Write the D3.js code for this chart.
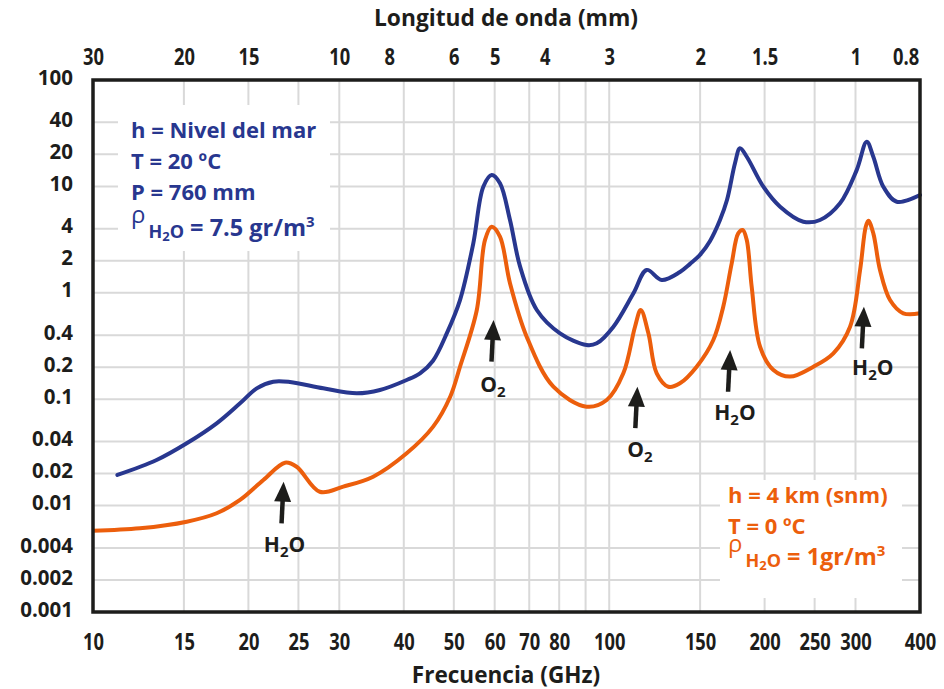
<!DOCTYPE html>
<html>
<head>
<meta charset="utf-8">
<script src="https://cdn.jsdelivr.net/npm/d3@7"></script>
<style>
  body { margin: 0; background: #fff; }
  text { font-family: "Open Sans", sans-serif; font-weight: 700; }
</style>
</head>
<body>
<div id="chart"></div>
<script>
// frequency ticks (GHz), bottom axis
const freqTicks = [10, 15, 20, 25, 30, 40, 50, 60, 70, 80, 100, 150, 200, 250, 300, 400];
const freqGrid = [15, 20, 25, 30, 40, 50, 60, 70, 80, 90, 100, 150, 200, 250, 300];
// wavelength ticks (mm), top axis
const waveTicks = [30, 20, 15, 10, 8, 6, 5, 4, 3, 2, 1.5, 1, 0.8];
// attenuation ticks (dB/km)
const attTicks = [100, 40, 20, 10, 4, 2, 1, 0.4, 0.2, 0.1, 0.04, 0.02, 0.01, 0.004, 0.002, 0.001];
const attGrid = [40, 20, 10, 4, 2, 1, 0.4, 0.2, 0.1, 0.04, 0.02, 0.01, 0.004, 0.002];

// sea level curve
const seaFreq = [11.15, 13.28, 15.19, 17.36, 19.27, 20.76, 22.35, 24.07, 27.93, 32.42, 35.97, 40.52, 43.0, 45.57, 48.5,
  51.4, 54.54, 57.03, 59.2, 61.43, 64.24, 67.2, 72.4, 80.3, 90.4, 94.6, 101.9, 111.4, 118.2, 126.4, 137.1,
  143.4, 149.9, 156.8, 163.9, 169.1, 175.3, 179.2, 184.7, 198.9, 214.3, 237.7, 256.1, 280.0, 301.7, 315.4, 324.8, 339.6,
  360.6, 400];
const seaAtt = [0.0194, 0.0268, 0.0385, 0.0593, 0.0915, 0.1265, 0.146, 0.145, 0.1265, 0.1136, 0.122, 0.1514, 0.175, 0.23, 0.42,
  0.855, 2.92, 9.93, 12.8, 10.7, 4.83, 1.76, 0.689, 0.416, 0.323, 0.335, 0.48, 0.989, 1.64, 1.32, 1.57,
  1.87, 2.27, 3.07, 4.83, 7.45, 16.6, 22.8, 19.0, 9.93, 6.44, 4.66, 4.83, 6.93, 14.3, 26.3, 19.0, 9.93,
  7.18, 8.3];

// 4 km curve
const highFreq = [10, 12.33, 15.19, 17.36, 19.27, 21.38, 23.55, 24.8, 27.5, 30.54, 34.9, 40.52, 45.6, 49.2, 51.4,
  55.4, 57.45, 59.2, 61.43, 64.24, 69.2, 77.95, 90.4, 98.9, 106.5, 112.2, 115.1, 119.1, 123.6, 130.2,
  137.1, 147.7, 159.1, 166.3, 172.7, 177.8, 181.4, 184.7, 188.8, 196.0, 208, 224, 248.6, 271.8, 292.8,
  306.2, 314.0, 317.7, 324.8, 334.6, 349.9, 371.2, 400];
const highAtt = [0.00581, 0.00612, 0.00706, 0.00847, 0.0113, 0.0174, 0.0253, 0.0232, 0.0135, 0.0151, 0.0187, 0.031, 0.0552, 0.1055, 0.2018,
  0.689, 3.13, 4.18, 3.37, 1.23, 0.387, 0.131, 0.085, 0.0983, 0.175, 0.48, 0.689, 0.416, 0.175, 0.131,
  0.141, 0.202, 0.36, 0.74, 1.89, 3.62, 3.89, 3.13, 1.14, 0.311, 0.188, 0.163, 0.202, 0.27, 0.48,
  1.64, 4.18, 4.76, 3.62, 1.64, 0.855, 0.642, 0.642];

// absorption line arrows: label, freq, tip value, tail value, label freq, label value
const notes = [
  { mol: "H", sub: "2", end: "O", freq: 23.4, tip: 0.0168, tail: 0.0068, lf: 23.5, lv: 0.0043 },
  { mol: "O", sub: "2", end: "", freq: 59.7, tip: 0.555, tail: 0.225, lf: 59.5, lv: 0.136 },
  { mol: "O", sub: "2", end: "", freq: 113.4, tip: 0.131, tail: 0.0536, lf: 114.7, lv: 0.0333 },
  { mol: "H", sub: "2", end: "O", freq: 171.5, tip: 0.29, tail: 0.1175, lf: 175.2, lv: 0.0742 },
  { mol: "H", sub: "2", end: "O", freq: 311.5, tip: 0.74, tail: 0.30, lf: 324, lv: 0.196 }
];

const blue = "#28378f", orange = "#ec5e0c", ink = "#1d1d1b";

const width = 944, height = 689,
      margin = { top: 80, right: 24, bottom: 77, left: 93 };

const svg = d3.select("#chart")
    .append("svg")
    .attr("width", width)
    .attr("height", height);

const x = d3.scaleLog()
    .domain([10, 400])
    .range([margin.left, width - margin.right]);

const y = d3.scaleLog()
    .domain([0.001, 100])
    .range([height - margin.bottom, margin.top]);

const xWave = d3.scaleLog()   // lambda(mm) = 300 / f(GHz)
    .domain([300 / 10, 300 / 400])
    .range(x.range());

// grid
svg.append("g")
    .selectAll("line")
    .data(freqGrid)
    .join("line")
    .attr("x1", d => x(d)).attr("x2", d => x(d))
    .attr("y1", y(100)).attr("y2", y(0.001))
    .attr("stroke", "#d9d9d9").attr("stroke-width", 2);

svg.append("g")
    .selectAll("line")
    .data(attGrid)
    .join("line")
    .attr("x1", x(10)).attr("x2", x(400))
    .attr("y1", d => y(d)).attr("y2", d => y(d))
    .attr("stroke", "#d9d9d9").attr("stroke-width", 2);

// legend backgrounds cover the grid
svg.append("rect").attr("x", 118).attr("y", 105).attr("width", 212).attr("height", 146).attr("fill", "#fff");
svg.append("rect").attr("x", 720).attr("y", 480).attr("width", 182).attr("height", 118).attr("fill", "#fff");

// axes
let axBottom = svg.append("g")
    .attr("transform", `translate(0,${height - margin.bottom})`)
    .call(d3.axisBottom(x).tickValues(freqTicks).tickFormat(d => d).tickSize(0).tickPadding(21));

let axTop = svg.append("g")
    .attr("transform", `translate(0,${margin.top})`)
    .call(d3.axisTop(xWave).tickValues(waveTicks).tickFormat(d => d).tickSize(0).tickPadding(15));

let axLeft = svg.append("g")
    .attr("transform", `translate(${margin.left},0)`)
    .call(d3.axisLeft(y).tickValues(attTicks).tickFormat(d => d).tickSize(0).tickPadding(20));

[axBottom, axTop, axLeft].forEach(g => {
    g.attr("font-family", null).attr("font-size", null);
    g.select(".domain").remove();
    g.selectAll("text").attr("fill", ink);
});
// condensed look for the frequency / wavelength numbers
axBottom.selectAll("text").attr("font-size", 23.5).attr("transform", "scale(0.78,1)");
axTop.selectAll("text").attr("font-size", 23.5).attr("transform", "scale(0.78,1)");
axLeft.selectAll("text").attr("font-size", 20.5).attr("dy", "0.2em");

// curves
const line = d3.line()
    .x(d => x(d[0]))
    .y(d => y(d[1]))
    .curve(d3.curveCatmullRom.alpha(0.5));

svg.append("path")
    .datum(d3.zip(seaFreq, seaAtt))
    .attr("d", line)
    .attr("fill", "none")
    .attr("stroke", blue)
    .attr("stroke-width", 4)
    .attr("stroke-linecap", "round")
    .attr("stroke-linejoin", "round");

svg.append("path")
    .datum(d3.zip(highFreq, highAtt))
    .attr("d", line)
    .attr("fill", "none")
    .attr("stroke", orange)
    .attr("stroke-width", 4)
    .attr("stroke-linejoin", "round");

// arrows
let note = svg.selectAll(".note")
    .data(notes)
    .join("g")
    .attr("class", "note");

note.each(function(d) {
    const g = d3.select(this);
    const tx = x(d.freq), ty = y(d.tip);
    const bx = x(d.freq * Math.pow(10, -0.004)), by = y(d.tail);
    const ang = Math.atan2(ty - by, tx - bx);
    const head = 20, half = 8.5;
    const hx = tx - head * Math.cos(ang), hy = ty - head * Math.sin(ang);
    g.append("line")
        .attr("x1", bx).attr("y1", by)
        .attr("x2", hx + 2 * Math.cos(ang)).attr("y2", hy + 2 * Math.sin(ang))
        .attr("stroke", ink).attr("stroke-width", 4.5);
    g.append("path")
        .attr("d", `M${tx},${ty}L${hx - half * Math.sin(ang)},${hy + half * Math.cos(ang)}L${hx + half * Math.sin(ang)},${hy - half * Math.cos(ang)}Z`)
        .attr("fill", ink);
    const t = g.append("text")
        .attr("x", x(d.lf))
        .attr("y", y(d.lv) + 7)
        .attr("text-anchor", "middle")
        .attr("fill", ink)
        .attr("font-size", 21);
    t.append("tspan").text(d.mol);
    t.append("tspan").attr("font-size", 15).attr("dy", 5).text(d.sub);
    if (d.end) t.append("tspan").attr("dy", -5).text(d.end);
});

// legends
function legend(x0, y0, lines, yb, rhoTail, color) {
    let g = svg.append("g").attr("fill", color).attr("font-size", 22);
    lines.forEach((s, i) => {
        g.append("text").attr("x", x0).attr("y", y0 + i * 31).text(s);
    });
    let t = g.append("text").attr("x", x0).attr("y", yb);
    t.append("tspan").attr("y", yb - 13).attr("font-weight", 400).attr("font-size", 24).text("\u03C1");
    t.append("tspan").attr("y", yb + 2).attr("font-size", 18).attr("dx", 3).text("H");
    t.append("tspan").attr("y", yb + 5).attr("font-size", 13).text("2");
    t.append("tspan").attr("y", yb + 2).attr("font-size", 18).text("O");
    t.append("tspan").attr("y", yb).attr("font-size", 23.5).text(rhoTail);
    t.append("tspan").attr("y", yb - 9).attr("font-size", 15).text("3");
}

legend(131, 138, ["h = Nivel del mar", "T = 20 \u00BAC", "P = 760 mm"], 236, " = 7.5 gr/m", blue);
legend(728, 503, ["h = 4 km (snm)", "T = 0 \u00BAC"], 565, " = 1gr/m", orange);

// axis titles
svg.append("g")
    .attr("transform", "translate(506,26)")
    .append("text")
    .attr("transform", "scale(0.95,1)")
    .attr("text-anchor", "middle")
    .attr("font-size", 24)
    .attr("fill", ink)
    .text("Longitud de onda (mm)");

svg.append("g")
    .attr("transform", "translate(506,683)")
    .append("text")
    .attr("transform", "scale(0.94,1)")
    .attr("text-anchor", "middle")
    .attr("font-size", 24)
    .attr("fill", ink)
    .text("Frecuencia (GHz)");

// frame
svg.append("rect")
    .attr("x", x(10)).attr("y", y(100))
    .attr("width", x(400) - x(10)).attr("height", y(0.001) - y(100))
    .attr("fill", "none")
    .attr("stroke", ink)
    .attr("stroke-width", 3.5);
</script>
</body>
</html>
